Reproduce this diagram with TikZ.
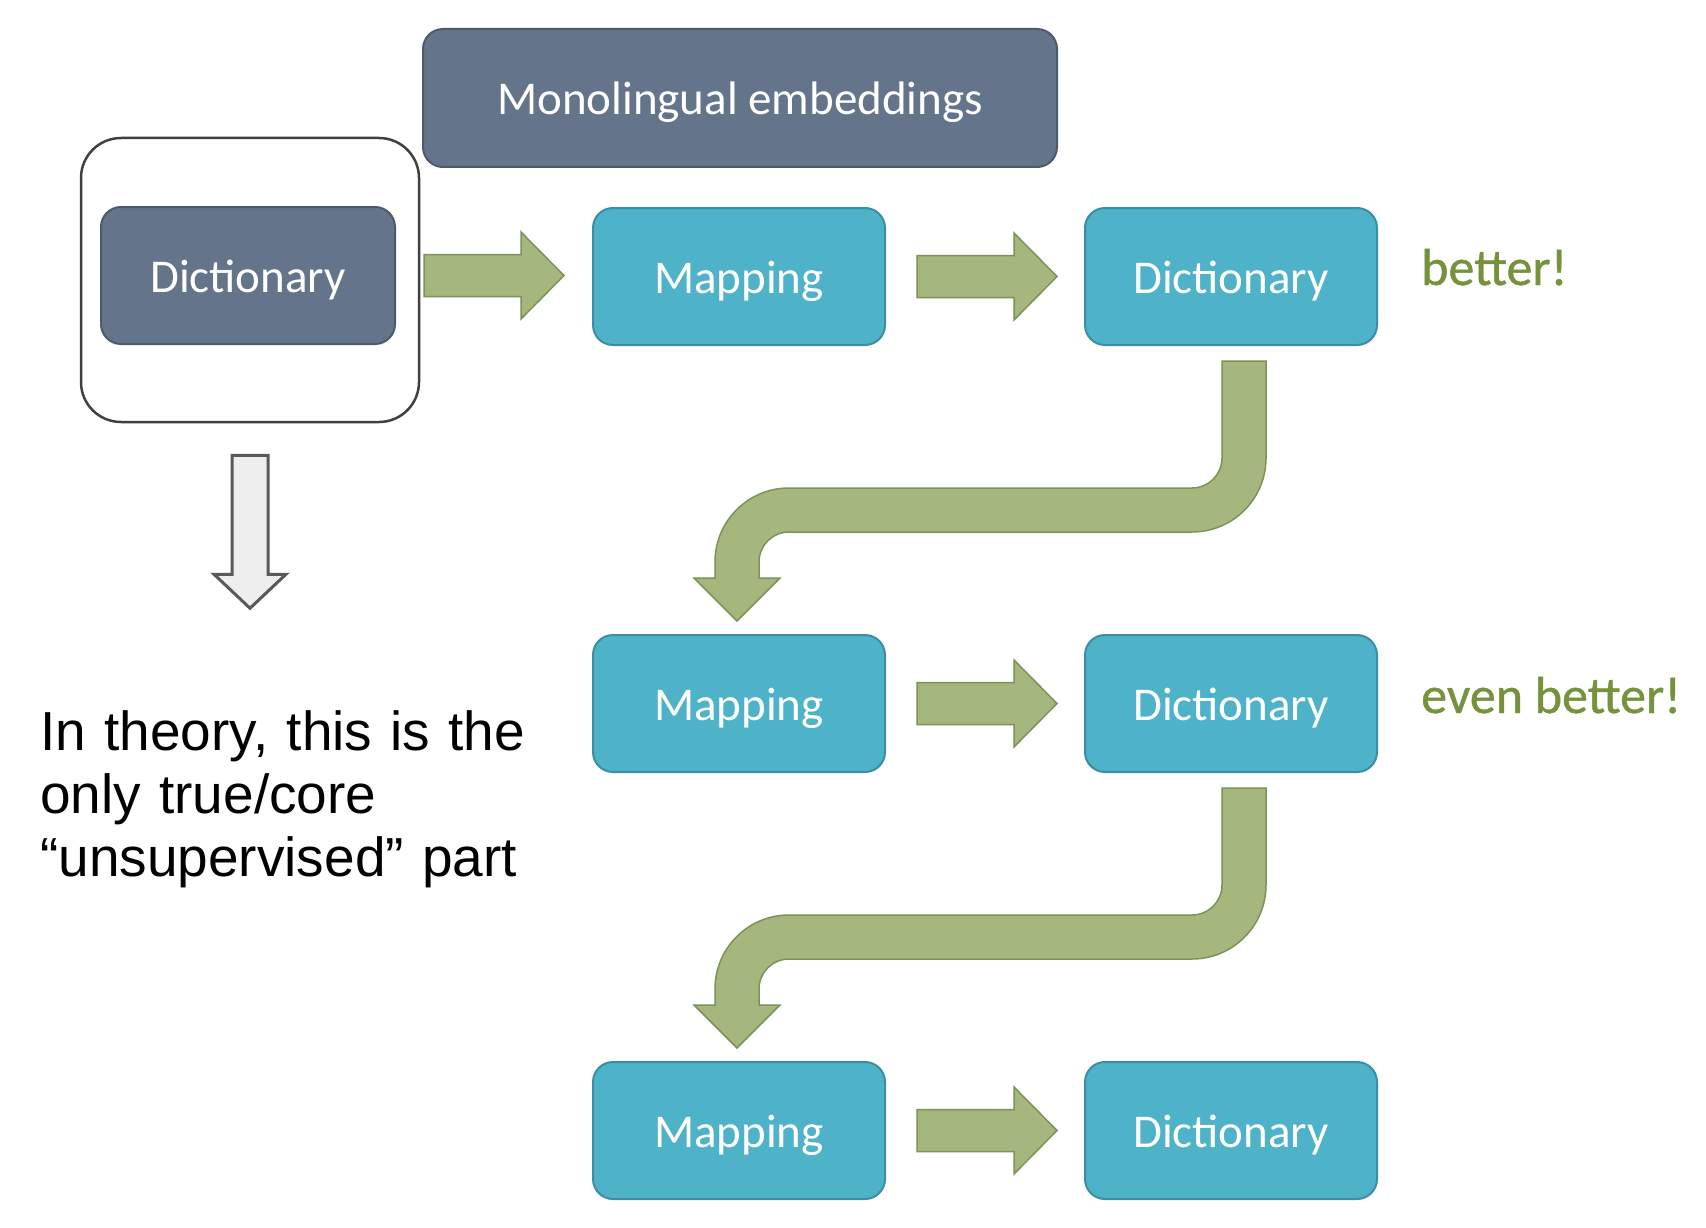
\documentclass[tikz,border=0pt]{standalone}
\usepackage{fontspec}
\setmainfont{Carlito}
\newfontfamily\notefont[WordSpace=0.7]{Liberation Sans}
\newfontfamily\greenfont[FakeBold=0.8]{Carlito}
\usetikzlibrary{calc}
\definecolor{slatef}{HTML}{64748A}
\definecolor{slateb}{HTML}{4E5A6A}
\definecolor{tealf}{HTML}{4EB2C9}
\definecolor{tealb}{HTML}{3A8EA5}
\definecolor{arrowf}{HTML}{A5B77D}
\definecolor{arrowb}{HTML}{7D915A}
\definecolor{greentext}{HTML}{76923C}
\definecolor{grayf}{HTML}{EEEEEE}
\definecolor{grayb}{HTML}{595959}
\begin{document}
\begin{tikzpicture}[x=1pt,y=-1pt,
  box/.style={rounded corners=20pt, minimum width=292pt, minimum height=137pt,
    line width=2pt, font=\fontsize{47}{56}\selectfont, text=white,
    inner sep=0pt, text height=33pt, text depth=0pt},
  tealbox/.style={box, fill=tealf, draw=tealb},
  darkbox/.style={box, fill=slatef, draw=slateb},
  blockarrow/.style={fill=arrowf, draw=arrowb, line width=1.5pt, line join=miter},
  greenlabel/.style={anchor=base west, inner sep=0pt, text=greentext, font=\greenfont\fontsize{52}{60}\selectfont},
  rarrow/.pic={\path[blockarrow] (0,-21) -- (97,-21) -- (97,-43.5) -- (140,0) -- (97,43.5) -- (97,21) -- (0,21) -- cycle;},
  darrow/.pic={\path[fill=grayf, draw=grayb, line width=3pt] (-18,0) -- (18,0) -- (18,119) -- (36,119) -- (0,153) -- (-36,119) -- (-18,119) -- cycle;},
  curvearrow/.pic={\path[blockarrow]
    (-9,15) -- (35,15) -- (35,112)
    .. controls (35,152.9) and (1.9,186) .. (-39,186)
    -- (-442,186)
    .. controls (-458.6,186) and (-472,199.4) .. (-472,216)
    -- (-472,232) -- (-451,232) -- (-494,275) -- (-537,232) -- (-516,232) -- (-516,216)
    .. controls (-516,175.1) and (-482.9,142) .. (-442,142)
    -- (-39,142)
    .. controls (-22.4,142) and (-9,128.6) .. (-9,112)
    -- cycle;}
]
\useasboundingbox (0,0) rectangle (1706,1228);
\fill[white] (0,0) rectangle (1706,1228);

% nodes
\node[darkbox, minimum width=634pt, minimum height=138pt] (mono) at (740,98) {Monolingual embeddings};
\node[draw=black!75, line width=2.5pt, rounded corners=40pt, minimum width=338pt, minimum height=284pt, inner sep=0pt] (outer) at (250,280) {};
\node[darkbox, minimum width=294pt] (d0) at (248,275.5) {Dictionary};
\node[tealbox] (m1) at (739,276.5) {Mapping};
\node[tealbox] (d1) at (1231,276.5) {Dictionary};
\node[tealbox] (m2) at (739,703.5) {Mapping};
\node[tealbox] (d2) at (1231,703.5) {Dictionary};
\node[tealbox] (m3) at (739,1130.5) {Mapping};
\node[tealbox] (d3) at (1231,1130.5) {Dictionary};

\node[greenlabel] (lb1) at (1421,285) {better!};
\node[greenlabel] (lb2) at (1421,713) {even better!};

\node[anchor=base west, inner sep=0pt, text width=600pt, align=left,
  font=\notefont\fontsize{55}{63}\selectfont] (note) at (40,750)
  {In theory, this is the\\only true/core\\“unsupervised” part};

% connectors
\pic at ($(d0.east)+(28,0)$) {rarrow};
\pic at ($(m1.east)+(31,0)$) {rarrow};
\pic at ($(m2.east)+(31,0)$) {rarrow};
\pic at ($(m3.east)+(31,0)$) {rarrow};
\pic at (d1.south) {curvearrow};
\pic at (d2.south) {curvearrow};
\pic at ($(outer.south)+(0,32)$) {darrow};
\end{tikzpicture}
\end{document}
